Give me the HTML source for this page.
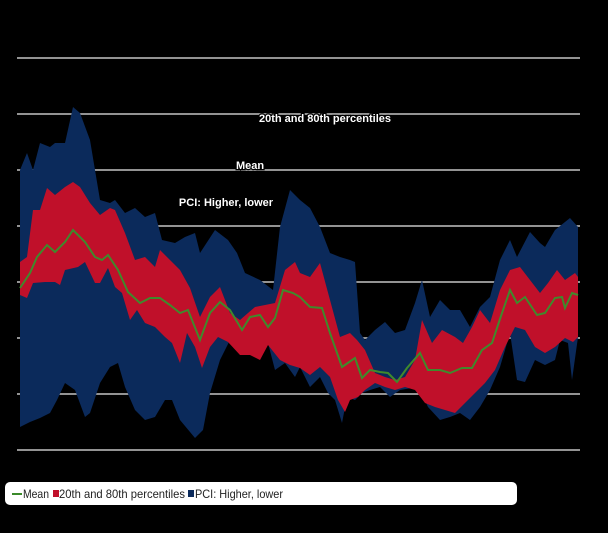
<!DOCTYPE html>
<html><head><meta charset="utf-8"><style>
html,body{margin:0;padding:0;background:#000;width:608px;height:533px;overflow:hidden}
svg{display:block}
.ann{font-family:"Liberation Sans",sans-serif;font-weight:bold;font-size:11px;fill:#fff;stroke:#000;stroke-width:2.5px;paint-order:stroke}
.leg{font-family:"Liberation Sans",sans-serif;font-size:12px;fill:#222}
</style></head><body>
<svg id="chart" width="608" height="533" xmlns="http://www.w3.org/2000/svg">
<rect x="0" y="0" width="608" height="533" fill="#000"/>
<g id="grid"></g>
<g id="bands"></g>
<g id="anns">
<text class="ann" x="325" y="122" text-anchor="middle">20th and 80th percentiles</text>
<text class="ann" x="250" y="169" text-anchor="middle">Mean</text>
<text class="ann" x="226" y="206" text-anchor="middle">PCI: Higher, lower</text>
</g>
<g>
<rect x="5" y="482" width="512" height="23" rx="5" fill="#fff"/>
<line x1="12" y1="494" x2="22" y2="494" stroke="#3a8a2a" stroke-width="2"/>
<text class="leg" x="23" y="498" textLength="26" lengthAdjust="spacingAndGlyphs">Mean</text>
<rect x="53" y="490" width="6" height="7" fill="#c0102a"/>
<text class="leg" x="59" y="498" textLength="126" lengthAdjust="spacingAndGlyphs">20th and 80th percentiles</text>
<rect x="188" y="490" width="6" height="7" fill="#0b2a5b"/>
<text class="leg" x="195" y="498" textLength="88" lengthAdjust="spacingAndGlyphs">PCI: Higher, lower</text>
</g>
</svg>
<script>
const yTicks=[0,56,112,168,224,280,336,392];
const pciHigh=[[0,280],[7,297],[13,280],[20,307],[30,303],[35,307],[45,307],[53,343],[60,337],[70,310],[80,250],[90,247],[95,250],[105,237],[115,242],[125,233],[135,237],[142,210],[155,207],[165,213],[175,217],[180,197],[195,220],[208,210],[217,197],[225,177],[240,170],[253,160],[260,223],[270,260],[280,250],[290,242],[300,223],[310,197],[320,193],[330,190],[335,188],[340,117],[345,110],[355,120],[365,128],[375,117],[385,120],[395,147],[402,170],[410,133],[420,150],[430,140],[440,140],[450,123],[460,143],[470,153],[480,190],[490,210],[497,193],[510,218],[520,207],[525,203],[535,220],[550,232],[558,223]];
const pciLow=[[0,23],[10,28],[20,32],[30,37],[37,50],[45,67],[55,60],[65,33],[70,37],[80,67],[90,83],[98,87],[105,63],[115,40],[125,30],[135,33],[145,50],[152,50],[160,30],[175,12],[183,20],[190,57],[200,90],[210,110],[220,103],[230,97],[240,93],[248,107],[255,80],[265,87],[275,73],[280,83],[290,63],[300,73],[308,57],[315,50],[322,27],[327,53],[335,50],[342,57],[350,60],[360,63],[370,53],[380,60],[392,62],[400,60],[408,43],[420,30],[430,33],[440,37],[450,30],[460,43],[470,60],[480,83],[490,117],[497,70],[505,68],[515,90],[525,85],[535,90],[540,110],[548,107],[552,70],[558,113]];
const p80=[[0,188],[7,193],[13,240],[20,240],[27,262],[35,255],[45,263],[53,268],[60,263],[70,247],[80,235],[90,242],[95,240],[105,217],[115,190],[125,193],[135,183],[140,200],[150,190],[160,180],[170,162],[180,133],[190,153],[200,163],[210,137],[220,130],[228,137],[235,143],[245,145],[255,147],[265,180],[275,188],[280,177],[290,173],[300,187],[310,150],[320,113],[330,117],[337,110],[345,100],[355,77],[365,73],[375,70],[385,73],[395,90],[402,130],[412,107],[422,120],[435,113],[443,107],[452,123],[460,140],[470,127],[480,160],[490,180],[500,183],[510,170],[520,157],[528,167],[537,180],[545,170],[555,177],[558,173]];
const p20=[[0,155],[7,152],[13,167],[25,168],[35,168],[40,165],[45,180],[58,183],[65,188],[75,167],[80,167],[88,182],[95,163],[102,157],[110,130],[117,140],[125,127],[135,123],[145,113],[152,107],[160,87],[167,117],[175,103],[182,82],[190,103],[198,113],[208,108],[220,95],[230,95],[240,90],[248,105],[260,90],[270,85],[280,82],[290,75],[300,83],[310,73],[318,50],[325,38],[330,50],[338,53],[345,60],[355,67],[365,63],[375,60],[385,63],[395,60],[405,47],[415,43],[425,40],[435,37],[445,47],[455,57],[465,67],[475,80],[485,103],[495,123],[505,120],[515,103],[525,97],[535,103],[545,112],[553,108],[558,113]];
const meanVals=[[0,162],[10,177],[17,193],[27,205],[35,198],[45,208],[53,220],[65,208],[75,193],[82,190],[88,195],[98,180],[108,158],[120,147],[130,152],[140,152],[150,145],[160,137],[168,140],[180,110],[190,137],[200,148],[210,140],[222,120],[230,133],[240,135],[248,123],[255,132],[263,160],[273,157],[280,153],[290,143],[302,142],[310,117],[322,83],[335,92],[342,72],[350,80],[360,78],[368,77],[377,68],[387,82],[400,97],[408,80],[420,80],[430,77],[442,82],[452,82],[462,100],[472,107],[482,137],[490,160],[497,147],[505,153],[517,135],[525,137],[535,152],[542,153],[545,142],[552,157],[558,155]];

const NS="http://www.w3.org/2000/svg";
const X0=20,X1=578,Y0=450,Y1=58;
function xs(t){return X0+(t/558)*(X1-X0);}
function ys(v){return Y0-(v/392)*(Y0-Y1);}
const grid=document.getElementById('grid');
yTicks.forEach(v=>{
  const l=document.createElementNS(NS,'line');
  l.setAttribute('x1',17);l.setAttribute('x2',580);
  l.setAttribute('y1',ys(v));l.setAttribute('y2',ys(v));
  l.setAttribute('stroke','#c4c4c4');l.setAttribute('stroke-width','1.5');
  
  
  grid.appendChild(l);
});
function band(hi,lo,fill,name){
  const pts=hi.map(p=>xs(p[0])+','+ys(p[1])).concat(lo.slice().reverse().map(p=>xs(p[0])+','+ys(p[1])));
  const pg=document.createElementNS(NS,'polygon');
  pg.setAttribute('points',pts.join(' '));
  pg.setAttribute('fill',fill);
  
  
  document.getElementById('bands').appendChild(pg);
}
band(pciHigh,pciLow,'#0b2a5b','pci-band');
band(p80,p20,'#c0102a','percentile-band');
const ml=document.createElementNS(NS,'polyline');
ml.setAttribute('points',meanVals.map(p=>xs(p[0])+','+ys(p[1])).join(' '));
ml.setAttribute('fill','none');ml.setAttribute('stroke','#3f8a2c');ml.setAttribute('stroke-width','2');


document.getElementById('bands').appendChild(ml);
</script>
</body></html>
